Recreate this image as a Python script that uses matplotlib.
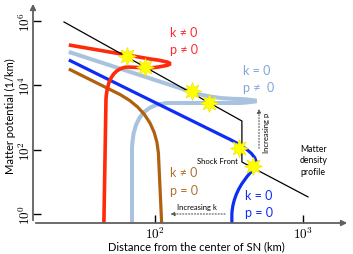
import matplotlib
matplotlib.use('Agg')
import matplotlib.pyplot as plt
from matplotlib.path import Path
from matplotlib.patches import PathPatch

plt.rcParams['font.family'] = ['Lato', 'DejaVu Sans']
plt.rcParams['mathtext.fontset'] = 'cm'

# matter density profile (km, 1/km)
profile_r = [24.3, 387, 387, 1082]
profile_v = [9.3e5, 777, 41.3, 3.4]

M, L, C = Path.MOVETO, Path.LINETO, Path.CURVE3

# k != 0, p != 0  (red)
red_r = [26.2, 92.5, 172, 92.5, 64.7, 48.1, 46.7, 45.2]
red_v = [1.79e5, 6.6e4, 4.6e4, 3.45e4, 3.7e4, 3.2e4, 3760, 0.52]
red_codes = [M, L, C, C, L, C, C, L]

# k = 0, p != 0  (light blue)
lblue_r = [26.2, 186, 254, 375, 618, 375, 126, 71, 70, 70]
lblue_v = [1.09e5, 5770, 3760, 3760, 3260, 2820, 2820, 2820, 105, 0.52]
lblue_codes = [M, L, C, C, C, C, L, C, C, L]

# k != 0, p = 0  (brown)
brown_r = [26.2, 53.7, 105, 106, 111]
brown_v = [3.2e4, 6200, 1480, 51, 0.52]
brown_codes = [M, L, C, C, L]

# k = 0, p = 0  (blue)
blue_r = [26.2, 297, 581, 452, 337, 331, 331]
blue_v = [6.12e4, 248, 59, 21.7, 5.19, 1.0, 0.52]
blue_codes = [M, L, C, C, C, C, L]

# resonance stars
star_r = [64.7, 85.5, 178, 232, 370, 459]
star_v = [8.1e4, 3.7e4, 6650, 2820, 113, 31]

fig = plt.figure(figsize=(3.53, 2.55), dpi=100)
ax = fig.add_axes([33 / 353, 31 / 255, 317 / 353, 222 / 255])
ax.set_xscale('log')
ax.set_yscale('log')
ax.set_xlim(15.0, 2080)
ax.set_ylim(0.525, 4.17e6)

for r, v, codes, col, lw in [(lblue_r, lblue_v, lblue_codes, '#a9c2de', 2.9),
                             (brown_r, brown_v, brown_codes, '#b0600f', 2.3),
                             (blue_r, blue_v, blue_codes, '#0d2df5', 2.3),
                             (red_r, red_v, red_codes, '#fe2a0a', 2.6)]:
    p = Path(list(zip(r, v)), codes)
    ax.add_patch(PathPatch(p, fill=False, ec=col, lw=lw, capstyle='butt'))

ax.plot(profile_r, profile_v, color='black', lw=0.9)
ax.plot(star_r, star_v, ls='none', marker=(8, 1, 0), ms=13, color='#ffff00',
        mec='#f2e600', mew=0.5)

# axes as arrows
for s in ax.spines.values():
    s.set_visible(False)
ax.annotate('', xy=(1.0, 0), xytext=(0, 0), xycoords='axes fraction',
            arrowprops=dict(arrowstyle='-|>', color='#606060', lw=1.3, mutation_scale=8))
ax.annotate('', xy=(0, 1.0), xytext=(0, 0), xycoords='axes fraction',
            arrowprops=dict(arrowstyle='-|>', color='#606060', lw=1.3, mutation_scale=8))

ax.minorticks_off()
ax.set_xticks([1e2, 1e3])
ax.set_xticklabels([r'$10^{2}$', r'$10^{3}$'], fontsize=9.5)
ax.set_yticks([1e0, 1e2, 1e4, 1e6])
ax.set_yticklabels([r'$10^{0}$', r'$10^{2}$', r'$10^{4}$', r'$10^{6}$'], fontsize=9.5,
                   rotation=90, va='center')
ax.tick_params(direction='in', length=6, width=1, color='black', pad=1)

# curve labels
ax.text(126, 4.5e5, 'k ≠ 0', color='#ff2a2a', fontsize=9, va='center')
ax.text(126, 1.35e5, 'p ≠ 0', color='#ff2a2a', fontsize=9, va='center')
ax.text(393, 3.0e4, 'k = 0', color='#7ea6dc', fontsize=9, va='center')
ax.text(393, 8870, 'p ≠  0', color='#7ea6dc', fontsize=9, va='center')
ax.text(126, 20.2, 'k ≠ 0', color='#b07030', fontsize=9, va='center')
ax.text(126, 5.57, 'p = 0', color='#b07030', fontsize=9, va='center')
ax.text(405, 3.9, 'k = 0', color='#0d2df5', fontsize=9, va='center')
ax.text(405, 1.15, 'p = 0', color='#0d2df5', fontsize=9, va='center')

ax.text(364, 44.4, 'Shock Front', fontsize=5.5, ha='right', va='center')
ax.text(955, 47.7, 'Matter\ndensity\nprofile', fontsize=6.3, ha='left', va='center',
        linespacing=1.35)

ax.annotate('', xy=(505, 2275), xytext=(505, 90.8),
            arrowprops=dict(arrowstyle='-|>', color='#555555', lw=0.8, ls=':',
                            mutation_scale=6))
ax.text(571, 354, 'Increasing p', fontsize=5.5, rotation=90, ha='center', va='center')
ax.annotate('', xy=(122, 1.0), xytext=(311, 1.0),
            arrowprops=dict(arrowstyle='-|>', color='#555555', lw=0.8, ls=':',
                            mutation_scale=6))
ax.text(192, 1.65, 'Increasing k', fontsize=5.5, ha='center', va='center')

fig.text(196 / 353, 1 - 246.5 / 255, 'Distance from the center of SN (km)',
         fontsize=8, ha='center', va='center')
fig.text(10 / 353, 1 - 116 / 255, 'Matter potential (1/km)', fontsize=8,
         rotation=90, ha='center', va='center')

fig.savefig('out.png', dpi=100)
